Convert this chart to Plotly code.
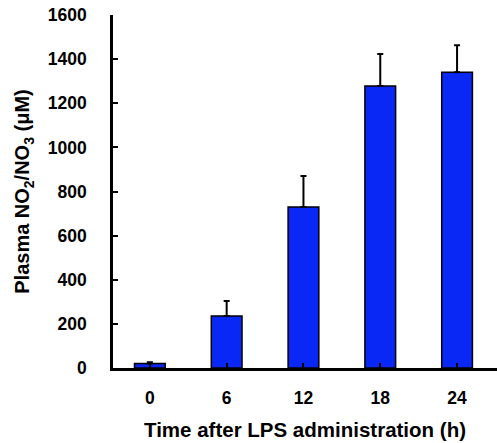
import plotly.graph_objects as go

categories = ["0", "6", "12", "18", "24"]
values = [20, 236, 730, 1278, 1341]
errors = [6, 68, 140, 145, 122]
y_ticks = [0, 200, 400, 600, 800, 1000, 1200, 1400, 1600]

FONT = "Arial, 'Liberation Sans', sans-serif"

fig = go.Figure(go.Bar(
    x=list(range(len(categories))), y=values,
    width=0.40,
    marker=dict(color="#0A28F5", line=dict(color="#000000", width=1.5)),
    error_y=dict(type="data", array=errors, arrayminus=[0]*len(errors),
                 symmetric=False, color="#000000", thickness=2, width=3),
))

fig.update_layout(
    width=497, height=443,
    margin=dict(l=113, r=0, t=15, b=75, autoexpand=False),
    paper_bgcolor="white", plot_bgcolor="white",
    showlegend=False,
    font=dict(family=FONT, size=17, color="#000000", weight=700),
    xaxis=dict(
        range=[-0.48, 4.52], automargin=False,
        tickmode="array", tickvals=list(range(len(categories))), ticktext=categories,
        ticks="inside", tickson="boundaries", ticklen=5, tickwidth=2, tickcolor="black",
        showline=True, linecolor="black", linewidth=2.5,
        showgrid=False, zeroline=False,
        ticklabelstandoff=12,
        tickfont=dict(size=17.5, family=FONT, weight=700),
        title=dict(text="Time after LPS administration (h)", standoff=16,
                   font=dict(size=20.5, family=FONT, weight=700)),
    ),
    yaxis=dict(
        range=[0, 1600], automargin=False,
        tickmode="array", tickvals=y_ticks,
        ticks="inside", ticklen=5, tickwidth=2, tickcolor="black",
        showline=True, linecolor="black", linewidth=2.5,
        showgrid=False, zeroline=False,
        ticklabelstandoff=20, ticklabeloverflow="allow",
        tickfont=dict(size=17.5, family=FONT, weight=700),
        title=dict(text="Plasma NO<sub>2</sub>/NO<sub>3</sub> (μM)", standoff=13,
                   font=dict(size=20, family=FONT, weight=700)),
    ),
)

fig.write_html("out.html", config={"displayModeBar": False},
               post_script="document.body.style.margin='0';document.body.style.padding='0';")
